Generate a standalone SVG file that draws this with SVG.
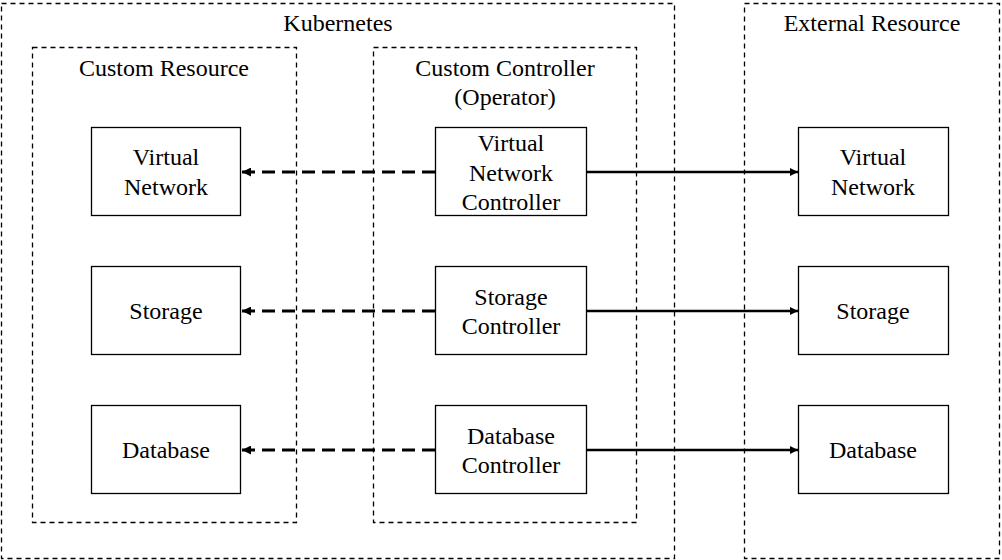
<svg xmlns="http://www.w3.org/2000/svg" width="1002" height="560" viewBox="0 0 1002 560">
<style>
.grp{fill:none;stroke:#000;stroke-width:1.3;stroke-dasharray:5 4}
.node{fill:#fff;stroke:#000;stroke-width:1.3}
.dash{stroke:#000;stroke-width:3;stroke-dasharray:13 7;fill:none}
.solid{stroke:#000;stroke-width:2.5;fill:none}
</style>
<defs>
<marker id="ahd" viewBox="0 0 10 10" refX="10" refY="5" markerWidth="3" markerHeight="3" orient="auto" markerUnits="strokeWidth">
<path d="M0,0 L10,5 L0,10 z" fill="#000"/>
</marker>
<marker id="ahs" viewBox="0 0 10 10" refX="10" refY="5" markerWidth="3.4" markerHeight="3.4" orient="auto" markerUnits="strokeWidth">
<path d="M0,0 L10,5 L0,10 z" fill="#000"/>
</marker>
</defs>
<rect x="0" y="0" width="1002" height="560" fill="#fff"/>
<g id="kubernetes">
<rect class="grp" x="1.5" y="3.5" width="673" height="555"/>
<text x="338" y="31" font-family="Liberation Serif" font-size="24" text-anchor="middle">Kubernetes</text>
</g>
<g id="external">
<rect class="grp" x="744.5" y="3.5" width="255" height="555"/>
<text x="872" y="31" font-family="Liberation Serif" font-size="24" text-anchor="middle">External Resource</text>
</g>
<g id="custom-resource">
<rect class="grp" x="32.5" y="47.5" width="264" height="475"/>
<text x="164" y="76" font-family="Liberation Serif" font-size="24" text-anchor="middle">Custom Resource</text>
</g>
<g id="custom-controller">
<rect class="grp" x="373.5" y="47.5" width="263" height="475"/>
<text x="505" y="76" font-family="Liberation Serif" font-size="24" text-anchor="middle">Custom Controller</text>
<text x="505" y="105" font-family="Liberation Serif" font-size="24" text-anchor="middle">(Operator)</text>
</g>
<g id="connectors">
<line class="dash" x1="435" y1="172" x2="242" y2="172" marker-end="url(#ahd)"/>
<line class="dash" x1="435" y1="311" x2="242" y2="311" marker-end="url(#ahd)"/>
<line class="dash" x1="435" y1="450" x2="242" y2="450" marker-end="url(#ahd)"/>
<line class="solid" x1="587" y1="172" x2="798" y2="172" marker-end="url(#ahs)"/>
<line class="solid" x1="587" y1="311" x2="798" y2="311" marker-end="url(#ahs)"/>
<line class="solid" x1="587" y1="450" x2="798" y2="450" marker-end="url(#ahs)"/>
</g>
<g id="cr-vnet">
<rect class="node" x="91.5" y="127.5" width="149" height="88"/>
<text x="166" y="165" font-family="Liberation Serif" font-size="24" text-anchor="middle">Virtual</text>
<text x="166" y="195" font-family="Liberation Serif" font-size="24" text-anchor="middle">Network</text>
</g>
<g id="cr-storage">
<rect class="node" x="91.5" y="266.5" width="149" height="88"/>
<text x="166" y="319" font-family="Liberation Serif" font-size="24" text-anchor="middle">Storage</text>
</g>
<g id="cr-database">
<rect class="node" x="91.5" y="405.5" width="149" height="88"/>
<text x="166" y="458" font-family="Liberation Serif" font-size="24" text-anchor="middle">Database</text>
</g>
<g id="vnet-controller">
<rect class="node" x="435.5" y="127.5" width="151" height="88"/>
<text x="511" y="151" font-family="Liberation Serif" font-size="24" text-anchor="middle">Virtual</text>
<text x="511" y="181" font-family="Liberation Serif" font-size="24" text-anchor="middle">Network</text>
<text x="511" y="210" font-family="Liberation Serif" font-size="24" text-anchor="middle">Controller</text>
</g>
<g id="storage-controller">
<rect class="node" x="435.5" y="266.5" width="151" height="88"/>
<text x="511" y="305" font-family="Liberation Serif" font-size="24" text-anchor="middle">Storage</text>
<text x="511" y="334" font-family="Liberation Serif" font-size="24" text-anchor="middle">Controller</text>
</g>
<g id="database-controller">
<rect class="node" x="435.5" y="405.5" width="151" height="88"/>
<text x="511" y="444" font-family="Liberation Serif" font-size="24" text-anchor="middle">Database</text>
<text x="511" y="473" font-family="Liberation Serif" font-size="24" text-anchor="middle">Controller</text>
</g>
<g id="ext-vnet">
<rect class="node" x="798.5" y="127.5" width="150" height="88"/>
<text x="873" y="165" font-family="Liberation Serif" font-size="24" text-anchor="middle">Virtual</text>
<text x="873" y="195" font-family="Liberation Serif" font-size="24" text-anchor="middle">Network</text>
</g>
<g id="ext-storage">
<rect class="node" x="798.5" y="266.5" width="150" height="88"/>
<text x="873" y="319" font-family="Liberation Serif" font-size="24" text-anchor="middle">Storage</text>
</g>
<g id="ext-database">
<rect class="node" x="798.5" y="405.5" width="150" height="88"/>
<text x="873" y="458" font-family="Liberation Serif" font-size="24" text-anchor="middle">Database</text>
</g>
</svg>
